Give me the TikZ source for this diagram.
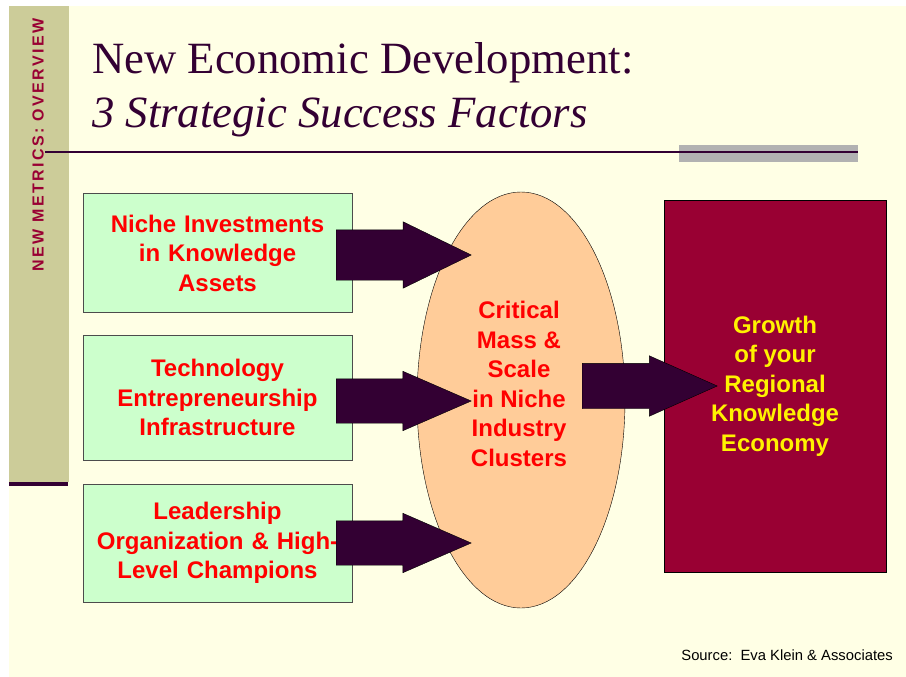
\documentclass[tikz,border=0pt]{standalone}
\usepackage{fontspec}
\setmainfont{Liberation Serif}
\setsansfont{Liberation Sans}
\newfontfamily\bandfont[LetterSpace=15]{Liberation Sans}
\usetikzlibrary{shapes.geometric,shapes.arrows}

\definecolor{slidebg}{HTML}{FFFFE5}
\definecolor{bandtan}{HTML}{CCCC99}
\definecolor{darkplum}{HTML}{330033}
\definecolor{wine}{HTML}{990033}
\definecolor{mint}{HTML}{CCFFCC}
\definecolor{peach}{HTML}{FFCC99}

\tikzset{
	factor/.style={draw=black!70, fill=mint, minimum width=269pt, text width=262pt, align=center,
		text=red, font=\sffamily\bfseries\fontsize{24}{29.5}\selectfont},
	bigarrow/.style={single arrow, draw=black, fill=darkplum, inner xsep=0pt, anchor=tail,
		minimum height=135pt, single arrow head indent=0pt},
}

\begin{document}
\begin{tikzpicture}[x=1pt,y=-1pt]
		\useasboundingbox (0,0) rectangle (906,677);
		\fill[white] (0,0) rectangle (906,677);
		\fill[slidebg] (9,6) rectangle (906,677);
		% side band and title rule
		\fill[bandtan] (9,6) rectangle (69,482);
		\fill[darkplum] (9,482) rectangle (68,486);
		\node (band) at (38,145) [rotate=90, text=wine, font=\bandfont\bfseries\fontsize{16}{18}\selectfont] {NEW METRICS: OVERVIEW};
		\fill[black!30] (679,145) rectangle (858,162);
		\draw[darkplum, line width=1.5pt] (45,152) -- (858,152);
		\node (title) at (92,74) [anchor=base west, inner sep=0pt, text=darkplum, font=\fontsize{44.7}{50}\selectfont] {New Economic Development:};
		\node (subtitle) at (92,128) [anchor=base west, inner sep=0pt, text=darkplum, font=\itshape\fontsize{44.7}{50}\selectfont] {3 Strategic Success Factors};
		% the three factors
		\node (niche) at (217.5,253) [factor, minimum height=119pt] {Niche Investments\\ in Knowledge\\ Assets};
		\node (tech) at (217.5,397.5) [factor, minimum height=125pt] {Technology\\ Entrepreneurship\\ Infrastructure};
		\node (lead) at (217.5,543) [factor, minimum height=118pt] {Leadership\\ Organization \& High-\\ Level Champions};
		\node (mass) at (521,400) [ellipse, draw=black, fill=peach, minimum width=208pt, minimum height=416pt] {};
		\node (massText) at (519,384) [align=center, text=red, font=\sffamily\bfseries\fontsize{24}{29.5}\selectfont] {Critical\\ Mass \&\\ Scale\\ in Niche\\ Industry\\ Clusters};
		\node (growth) at (775,386) [draw=black, line width=1pt, fill=wine, minimum width=222pt, minimum height=372pt, align=center,
			text=yellow, font=\sffamily\bfseries\fontsize{24}{29.5}\selectfont] {Growth\\ of your\\ Regional\\ Knowledge\\ Economy};
		% block arrows
		\node (arrNiche) at (336,255) [bigarrow, inner ysep=25pt, single arrow head extend=8pt, single arrow tip angle=52] {};
		\node (arrTech) at (336,401) [bigarrow, inner ysep=22pt, single arrow head extend=7.5pt, single arrow tip angle=47] {};
		\node (arrLead) at (336,543) [bigarrow, inner ysep=22pt, single arrow head extend=7.5pt, single arrow tip angle=47] {};
		\node (arrMass) at (582,386) [bigarrow, inner ysep=22.5pt, single arrow head extend=7.5pt, single arrow tip angle=48] {};
		\node (source) at (893,660) [anchor=base east, inner sep=0pt, font=\sffamily\fontsize{14.8}{16}\selectfont] {Source:\ \ Eva Klein \& Associates};
	\end{tikzpicture}
\end{document}
